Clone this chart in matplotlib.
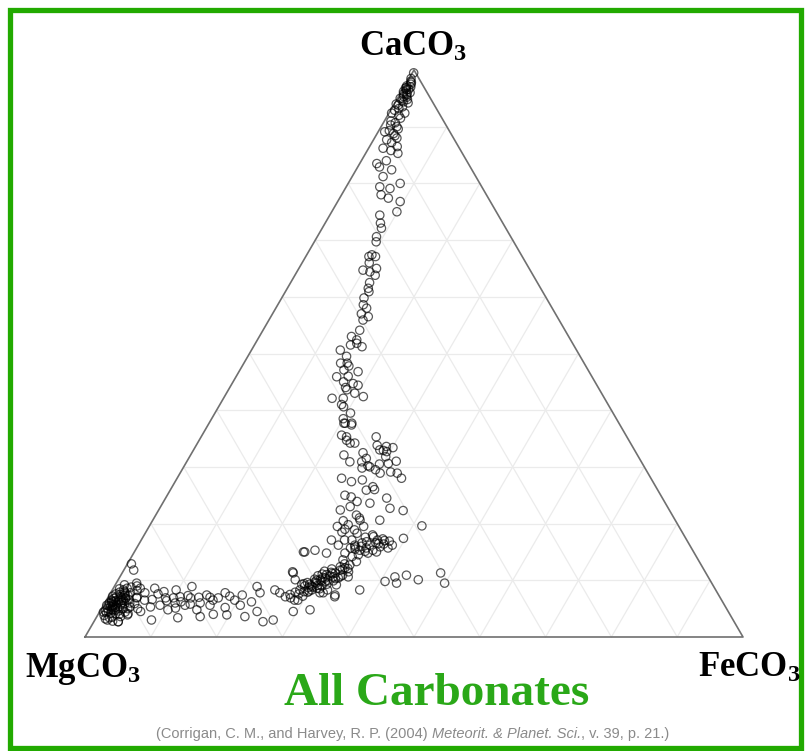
import numpy as np
import matplotlib
matplotlib.use('Agg')
import matplotlib.pyplot as plt
from matplotlib.patches import Rectangle

# mathtext subscripts in the same bold serif as the labels
plt.rcParams['mathtext.fontset'] = 'custom'
plt.rcParams['mathtext.rm'] = 'Liberation Serif:bold'
plt.rcParams['mathtext.it'] = 'Liberation Serif:bold'
plt.rcParams['mathtext.bf'] = 'Liberation Serif:bold'

# carbonate compositions, mol% CaCO3 and FeCO3 (MgCO3 is the rest)
ca_mg_end = [6.0, 5.5, 6.5, 7.0, 5.0, 4.5, 6.2, 7.5, 5.8, 4.8, 6.8, 8.0, 3.8, 4.2, 5.3, 7.2,
             6.6, 8.5, 3.5, 4.0, 5.0, 6.0, 7.8, 8.8, 9.2, 3.2, 2.8, 5.6, 4.4, 6.9, 5.2, 6.4,
             7.4, 4.6, 3.6, 5.9, 8.2, 7.0, 6.3, 5.7, 9.0, 4.9, 6.1, 7.6, 2.7, 3.9, 12.9, 11.8,
             5.4, 6.7, 4.3, 7.9, 5.1, 6.0, 7.1, 4.7, 5.9, 6.4, 3.4, 8.3, 5.5, 4.1, 7.3, 6.8,
             5.0, 6.2, 4.6, 7.7, 5.7, 3.0, 8.6, 6.5, 5.2, 4.4]
fe_mg_end = [1.0, 1.5, 0.8, 1.2, 0.9, 1.3, 2.0, 1.6, 2.5, 2.2, 2.8, 2.0, 1.0, 1.8, 3.0, 0.6,
             3.4, 1.0, 2.4, 3.2, 4.0, 3.8, 3.0, 2.6, 1.4, 1.5, 2.8, 0.5, 0.6, 2.2, 2.0, 1.5,
             2.4, 2.8, 3.6, 4.6, 3.8, 4.4, 0.9, 1.9, 3.4, 1.6, 2.6, 0.9, 3.7, 4.5, 0.6, 1.5,
             1.2, 1.8, 1.1, 1.3, 2.4, 0.7, 1.9, 1.9, 3.1, 2.3, 2.0, 1.7, 0.9, 2.6, 2.9, 1.0,
             3.3, 1.2, 0.8, 2.2, 1.4, 1.9, 2.1, 2.6, 1.6, 3.9]

ca_mg_tail = [9.5, 8.6, 8.6, 8.3, 7.1, 8.9, 7.4, 7.8, 6.5, 8.9, 7.8, 8.3, 6.2, 4.5, 2.7, 3.0,
              3.6, 3.9, 4.8, 3.6, 3.4, 3.0, 2.7, 4.5, 5.6, 6.9, 5.6, 6.5, 4.5, 4.8, 6.5, 6.5,
              5.3, 6.9, 4.8, 6.9, 6.0, 5.6, 6.9, 7.2, 5.6, 6.0, 7.6, 6.9, 5.3, 6.9, 4.1, 7.8,
              5.0, 8.0, 6.2, 4.0, 7.0, 5.2, 7.4, 6.4, 5.8, 7.0, 5.1, 6.6, 7.3]
fe_mg_tail = [3.1, 4.1, 6.3, 9.7, 10.9, 11.8, 14.8, 17.4, 19.5, 21.7, 22.7, 24.7, 22.2, 23.9,
              25.7, 27.1, 22.5, 19.6, 14.6, 15.7, 12.4, 8.6, 3.7, 6.2, 8.6, 10.0, 12.4, 16.2,
              29.4, 31.8, 28.6, 5.8, 7.3, 8.8, 10.2, 12.6, 14.5, 16.2, 16.8, 18.4, 20.8, 10.7,
              7.3, 4.4, 4.2, 2.7, 4.5, 5.2, 5.5, 8.0, 11.5, 17.5, 13.8, 18.7, 20.2, 9.2, 13.1,
              15.5, 11.2, 6.9, 12.0]

ca_mid = [6.9, 7.9, 6.5, 8.3, 7.2, 9.0, 7.9, 9.3, 8.3, 9.7, 8.6, 10.1, 9.0, 10.4, 9.3, 10.8,
          9.9, 11.3, 10.4, 11.8, 10.9, 12.2, 11.5, 12.7, 10.8, 9.3, 8.3, 9.2, 7.1, 7.8, 11.3,
          15.0, 15.3, 14.8, 11.5, 10.1, 7.8, 7.4, 10.6, 8.3, 7.8, 7.1, 15.0, 9.6, 10.2, 8.8,
          11.0, 9.9, 10.6, 12.0, 8.0, 11.6, 9.5, 8.7, 9.1, 10.0, 10.5, 11.2, 11.9, 12.4, 9.4,
          8.5, 7.6, 10.3, 11.1, 12.9, 13.3, 9.8, 8.1, 10.7, 11.4, 12.1, 9.0, 10.0, 7.5, 13.6]
fe_mid = [27.8, 28.0, 29.1, 28.5, 29.5, 28.9, 29.9, 29.5, 30.3, 30.1, 31.0, 30.7, 31.5, 31.3,
          32.1, 31.8, 32.8, 32.4, 33.3, 32.9, 33.7, 33.4, 34.3, 33.9, 30.0, 28.3, 32.7, 33.6,
          26.9, 25.7, 26.0, 25.9, 27.3, 29.3, 25.8, 26.9, 31.8, 34.3, 34.7, 37.6, 32.3, 34.4,
          25.7, 29.0, 29.8, 30.2, 31.2, 31.0, 32.4, 31.5, 29.3, 30.6, 30.4, 29.6, 30.8, 31.9,
          30.9, 32.0, 33.2, 32.6, 28.6, 31.4, 28.7, 32.9, 30.5, 33.0, 34.6, 31.6, 30.0, 33.5,
          31.7, 33.9, 29.9, 30.2, 27.4, 32.4]

ca_fe_lobe = [15.7, 16.2, 15.3, 16.6, 15.7, 16.2, 15.3, 16.6, 15.9, 16.4, 15.7, 14.5, 14.8,
              17.1, 17.6, 17.1, 16.2, 14.8, 18.5, 19.8, 18.9, 20.6, 17.1, 16.2, 17.1, 15.0,
              16.0, 17.0, 15.5, 9.8, 10.6, 9.5, 10.9, 10.1, 11.3, 9.5, 19.6, 22.3, 17.4, 20.6,
              16.8, 15.1, 16.5, 17.3, 15.9, 14.2, 16.9, 18.0]
fe_fe_lobe = [32.5, 32.9, 34.1, 33.8, 34.9, 35.2, 36.1, 35.9, 36.9, 37.2, 38.2, 34.3, 32.1,
              32.0, 33.8, 35.9, 38.6, 35.6, 29.8, 30.1, 31.5, 31.5, 30.9, 30.4, 28.9, 36.8,
              34.0, 37.0, 33.3, 40.7, 41.8, 42.6, 43.4, 45.6, 48.4, 49.9, 41.4, 37.2, 39.7, 34.5,
              34.4, 35.0, 36.4, 36.6, 33.1, 33.5, 37.8, 34.7]

ca_riser = [37.7, 37.7, 35.6, 34.7, 34.2, 35.3, 32.1, 30.9, 30.9, 30.0, 33.0, 32.7, 30.6, 29.5,
            28.9, 28.9, 28.0, 28.0, 27.4, 27.7, 25.9, 24.7, 23.0, 22.4, 23.9, 23.6, 24.5, 22.7,
            19.5, 19.5, 18.3, 17.7, 33.6, 31.5, 32.5, 29.8, 30.5, 26.5, 21.5, 20.5, 25.0, 33.8,
            31.0, 32.9, 31.8, 30.2, 29.1, 33.4, 26.0, 21.0, 19.0]
fe_riser = [20.7, 21.7, 21.2, 22.4, 23.9, 26.6, 23.3, 24.8, 26.6, 28.3, 28.3, 29.5, 30.8, 29.4,
            30.4, 33.0, 34.1, 25.0, 26.8, 28.3, 29.8, 28.1, 28.8, 27.6, 29.4, 31.5, 33.6, 35.0,
            28.6, 32.6, 32.2, 35.0, 29.0, 27.0, 26.0, 27.2, 29.5, 30.5, 30.5, 29.0, 27.0, 27.5,
            31.8, 28.9, 29.8, 27.9, 31.9, 30.1, 31.0, 31.2, 30.0]

ca_stem = [67.1, 67.1, 64.7, 64.4, 63.8, 65.0, 60.9, 58.6, 58.0, 55.9, 54.1, 52.4, 51.2, 51.5,
           50.6, 48.3, 48.3, 47.1, 46.8, 45.9, 45.0, 44.7, 44.4, 43.6, 42.1, 42.1, 43.0, 42.4,
           40.6, 39.5, 37.7, 37.4, 35.3, 34.2, 62.5, 59.8, 57.0, 53.0, 49.5, 46.0, 41.0, 38.5,
           66.0, 56.5, 61.5, 47.8, 44.0, 51.8]
fe_stem = [9.6, 10.6, 9.9, 11.1, 12.2, 11.8, 12.7, 13.0, 13.8, 14.3, 14.7, 15.1, 16.5, 14.6,
           13.5, 15.7, 14.7, 15.8, 18.1, 15.3, 16.8, 18.4, 19.3, 18.0, 16.5, 18.2, 19.5, 21.1,
           19.0, 20.6, 20.5, 21.8, 22.1, 23.2, 12.0, 12.5, 13.5, 14.0, 15.0, 17.0, 18.5, 20.0,
           10.2, 14.8, 12.3, 16.2, 17.6, 15.4]

ca_upper = [96.8, 96.2, 95.6, 95.0, 94.4, 93.8, 92.9, 92.4, 92.4, 91.5, 90.3, 90.0, 89.1, 88.8,
            87.7, 86.5, 85.3, 86.2, 82.9, 82.4, 81.2, 79.4, 79.1, 80.0, 77.4, 76.8, 75.0, 74.4,
            72.1, 70.6, 69.7, 67.4, 99.5, 98.0, 97.5, 97.0, 96.5, 95.8, 97.2, 96.0, 94.8, 93.5,
            98.5, 95.3, 94.0, 91.0, 89.6, 88.0, 84.0, 83.5, 78.0, 73.0, 97.8, 96.6, 95.2, 94.6,
            93.2, 92.0, 96.9, 95.9, 94.2, 90.7, 89.3, 87.2, 85.8, 88.4]
fe_upper = [0.3, 0.3, 1.1, 0.4, 1.2, 0.7, 0.6, 2.4, 0.4, 2.2, 1.3, 2.4, 1.0, 2.5, 2.0, 4.2,
            4.9, 2.2, 3.3, 5.4, 4.7, 5.1, 6.8, 7.9, 7.4, 9.5, 9.9, 7.6, 9.0, 9.0, 9.4, 9.9,
            0.2, 0.5, 0.8, 1.0, 0.6, 0.5, 0.3, 1.4, 1.6, 1.5, 0.3, 0.8, 0.3, 1.0, 2.8, 3.4,
            3.8, 2.6, 6.0, 8.4, 0.7, 0.9, 1.3, 0.9, 1.1, 1.7, 0.4, 1.0, 2.0, 1.8, 1.6, 3.0,
            3.6, 2.9]

ca_all = np.array(ca_mg_end + ca_mg_tail + ca_mid + ca_fe_lobe + ca_riser + ca_stem + ca_upper)
fe_all = np.array(fe_mg_end + fe_mg_tail + fe_mid + fe_fe_lobe + fe_riser + fe_stem + fe_upper)

H = np.sqrt(3) / 2


def to_xy(ca, fe):
    # MgCO3 at (0,0), FeCO3 at (1,0), CaCO3 at (0.5, H)
    ca = np.asarray(ca) / 100.0
    fe = np.asarray(fe) / 100.0
    return fe + ca / 2, ca * H


W, HGT = 805, 751
fig = plt.figure(figsize=(W / 100, HGT / 100), dpi=100)
ax = fig.add_axes([0, 0, 1, 1])
ax.set_axis_off()
# triangle base from pixel 85 to 743, base line at pixel row 637, apex at row 70
sx = 658.0
sy = 567.0 / H
ax.set_xlim(-85 / sx, (W - 85) / sx)
ax.set_ylim(-(HGT - 637) / sy, 637 / sy)

# grid lines every 10 %
for k in range(1, 10):
    f = k / 10
    # constant CaCO3
    x0, y0 = to_xy(100 * f, 0)
    x1, y1 = to_xy(100 * f, 100 * (1 - f))
    ax.plot([x0, x1], [y0, y1], color='#ebebeb', lw=0.9, zorder=1)
    # constant FeCO3
    x0, y0 = to_xy(0, 100 * f)
    x1, y1 = to_xy(100 * (1 - f), 100 * f)
    ax.plot([x0, x1], [y0, y1], color='#ebebeb', lw=0.9, zorder=1)
    # constant MgCO3
    x0, y0 = to_xy(0, 100 * (1 - f))
    x1, y1 = to_xy(100 * (1 - f), 0)
    ax.plot([x0, x1], [y0, y1], color='#ebebeb', lw=0.9, zorder=1)

tx, ty = to_xy([0, 0, 100, 0], [0, 100, 0, 0])
ax.plot(tx, ty, color='#707070', lw=1.2, zorder=2)

px, py = to_xy(ca_all, fe_all)
ax.scatter(px, py, s=36, facecolors='none', edgecolors='black', linewidths=0.9,
           alpha=0.65, zorder=3)

serif = 'Liberation Serif'


def fx(x):
    return x / W


def fy(y):
    return 1 - y / HGT


fig.text(fx(413), fy(56), r'CaCO$_3$', family=serif, weight='bold', fontsize=25,
         ha='center', va='baseline')
fig.text(fx(25), fy(677), r'MgCO$_3$', family=serif, weight='bold', fontsize=25,
         ha='left', va='baseline')
fig.text(fx(800), fy(677), r'FeCO$_3$', family=serif, weight='bold', fontsize=25,
         ha='right', va='baseline')
fig.text(fx(437), fy(705), 'All Carbonates', family=serif, weight='bold', fontsize=34,
         color='#2aa818', ha='center', va='baseline')

# citation with italic journal name, laid out piece by piece
parts = [('(Corrigan, C. M., and Harvey, R. P. (2004) ', 'normal'),
         ('Meteorit. & Planet. Sci.', 'italic'),
         (', v. 39, p. 21.)', 'normal')]
renderer = fig.canvas.get_renderer()
texts = []
for s, st in parts:
    t = fig.text(0, fy(738), s, family='Liberation Sans', style=st, fontsize=10.5,
                 color='#8a8a8a', ha='left', va='baseline')
    texts.append(t)
widths = [t.get_window_extent(renderer).width for t in texts]
x = 413 - sum(widths) / 2
for t, w in zip(texts, widths):
    t.set_x(fx(x))
    x += w

# green frame
fig.patches.append(Rectangle((fx(10), fy(748)), fx(801) - fx(10), fy(10) - fy(748),
                             transform=fig.transFigure, fill=False, edgecolor='#22aa00',
                             lw=3.8))

fig.savefig('out.png', dpi=100)
